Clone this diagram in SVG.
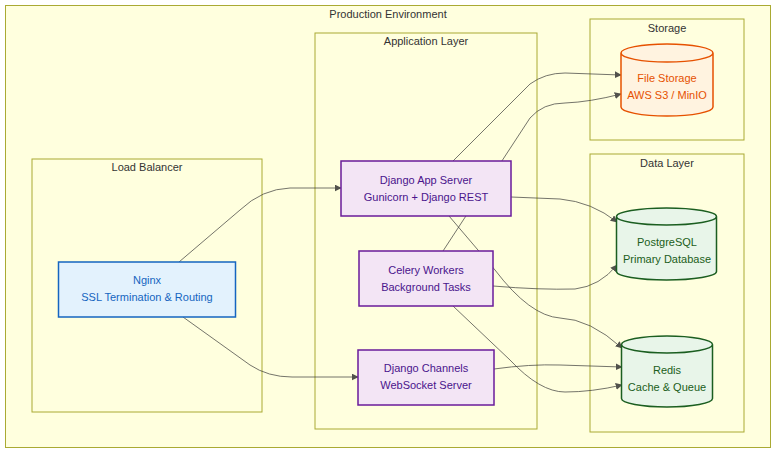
<svg xmlns="http://www.w3.org/2000/svg" width="784" height="459" viewBox="0 0 784 459">
<style>
.cluster{fill:#ffffde;stroke:#aaaa33;stroke-width:1}
.clabel{font-family:"Liberation Sans",Arial,sans-serif;font-size:11px;fill:#333;text-anchor:middle}
.ntext{font-family:"Liberation Sans",Arial,sans-serif;font-size:11px;text-anchor:middle}
.blue rect{fill:#e3f2fd;stroke:#1565c0;stroke-width:1.5}
.blue text{fill:#1565c0}
.purple rect{fill:#f3e5f5;stroke:#6a1b9a;stroke-width:1.5}
.purple text{fill:#4a148c}
.orange path{fill:#fff3e0;stroke:#e65100;stroke-width:1.5}
.orange text{fill:#e65100}
.green path{fill:#e8f5e9;stroke:#1b5e20;stroke-width:1.5}
.green text{fill:#1b5e20}
.edge{fill:none;stroke:#333;stroke-width:0.8;opacity:0.85}
</style>
<defs>
<marker id="arr" viewBox="0 0 10 10" refX="9" refY="5" markerWidth="7" markerHeight="7" markerUnits="userSpaceOnUse" orient="auto">
<path d="M0,0 L10,5 L0,10 z" fill="#333"/>
</marker>
</defs>
<rect width="784" height="459" fill="#ffffff"/>
<g id="clusters">
<rect class="cluster" x="5.5" y="5.5" width="765" height="442"/>
<text class="clabel" x="388" y="18">Production Environment</text>
<rect class="cluster" x="32" y="159" width="230" height="253"/>
<text class="clabel" x="147" y="171">Load Balancer</text>
<rect class="cluster" x="315" y="33" width="222" height="396"/>
<text class="clabel" x="426" y="45">Application Layer</text>
<rect class="cluster" x="590" y="19" width="154" height="121"/>
<text class="clabel" x="667" y="32">Storage</text>
<rect class="cluster" x="590" y="154" width="154" height="278"/>
<text class="clabel" x="667" y="167">Data Layer</text>
</g>
<g id="connectors">
<path class="edge" d="M179,262 L240,210 Q262,189 290,188 L341,188" marker-end="url(#arr)"/>
<path class="edge" d="M183,317 L250,365 Q268,377 292,377 L358,377" marker-end="url(#arr)"/>
<path class="edge" d="M453,161 L530,84 Q545,73 565,73 L621,75" marker-end="url(#arr)"/>
<path class="edge" d="M443,251 L530,118 Q543,103 565,103 Q590,102 621,94" marker-end="url(#arr)"/>
<path class="edge" d="M511,197 L560,199 Q592,202 617,222" marker-end="url(#arr)"/>
<path class="edge" d="M493,286 Q540,290 575,289 Q600,286 617,265" marker-end="url(#arr)"/>
<path class="edge" d="M449,216 L495,270 Q530,316 560,318 Q590,319 622,348" marker-end="url(#arr)"/>
<path class="edge" d="M453,306 L510,360 Q540,392 565,392 Q592,392 622,385" marker-end="url(#arr)"/>
<path class="edge" d="M494,369 Q530,364 560,365 L622,367" marker-end="url(#arr)"/>
</g>
<g id="nginx" class="blue">
<rect x="58.5" y="262" width="177" height="55"/>
<text class="ntext" x="147" y="284">Nginx</text>
<text class="ntext" x="147" y="301">SSL Termination &amp; Routing</text>
</g>
<g id="app" class="purple">
<rect x="341" y="161" width="170" height="55"/>
<text class="ntext" x="426" y="184">Django App Server</text>
<text class="ntext" x="426" y="201">Gunicorn + Django REST</text>
</g>
<g id="celery" class="purple">
<rect x="359" y="251" width="134" height="55"/>
<text class="ntext" x="426" y="274">Celery Workers</text>
<text class="ntext" x="426" y="291">Background Tasks</text>
</g>
<g id="channels" class="purple">
<rect x="358" y="350" width="136" height="55"/>
<text class="ntext" x="426" y="372">Django Channels</text>
<text class="ntext" x="426" y="389">WebSocket Server</text>
</g>
<g id="filestorage" class="orange">
<path d="M621,53 a46,9 0 0 0 92,0 a46,9 0 0 0 -92,0 l0,54 a46,9 0 0 0 92,0 l0,-54"/>
<text class="ntext" x="667" y="82">File Storage</text>
<text class="ntext" x="667" y="99">AWS S3 / MinIO</text>
</g>
<g id="postgres" class="green">
<path d="M616.5,216.5 a50,8.5 0 0 0 100,0 a50,8.5 0 0 0 -100,0 l0,55 a50,8.5 0 0 0 100,0 l0,-55"/>
<text class="ntext" x="667" y="246">PostgreSQL</text>
<text class="ntext" x="667" y="263">Primary Database</text>
</g>
<g id="redis" class="green">
<path d="M621.5,344.5 a45.5,8.5 0 0 0 91,0 a45.5,8.5 0 0 0 -91,0 l0,54 a45.5,8.5 0 0 0 91,0 l0,-54"/>
<text class="ntext" x="667" y="374">Redis</text>
<text class="ntext" x="667" y="391">Cache &amp; Queue</text>
</g>
</svg>
